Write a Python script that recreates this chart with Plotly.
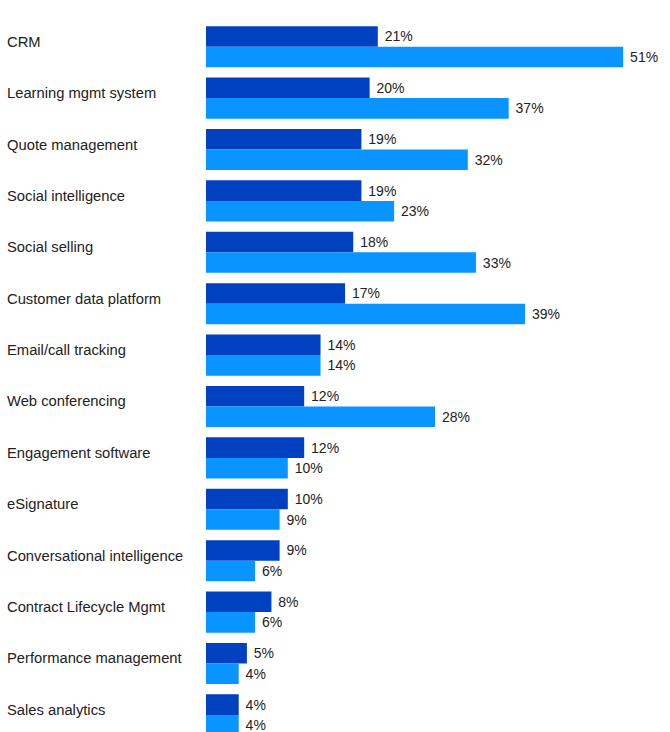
import plotly.graph_objects as go

categories = [
    "CRM", "Learning mgmt system", "Quote management", "Social intelligence",
    "Social selling", "Customer data platform", "Email/call tracking",
    "Web conferencing", "Engagement software", "eSignature",
    "Conversational intelligence", "Contract Lifecycle Mgmt",
    "Performance management", "Sales analytics",
]
series_a = [21, 20, 19, 19, 18, 17, 14, 12, 12, 10, 9, 8, 5, 4]
series_b = [51, 37, 32, 23, 33, 39, 14, 28, 10, 9, 6, 6, 4, 4]

DARK = "#0041C2"
LIGHT = "#0A94FF"
FONT = "Liberation Sans, Arial, sans-serif"
TEXT = "#222222"

fig = go.Figure()
for vals, color, name in [(series_a, DARK, "Series A"), (series_b, LIGHT, "Series B")]:
    fig.add_trace(go.Bar(
        y=categories, x=vals, orientation="h", name=name,
        marker=dict(color=color, line=dict(width=0)),
        text=[f" {v}%" for v in vals], textposition="outside",
        textfont=dict(family=FONT, size=14, color=TEXT),
        cliponaxis=False, showlegend=False,
    ))

# category labels, left-aligned at the page edge
for c in categories:
    fig.add_annotation(
        x=0, xref="paper", xanchor="left", xshift=-201,
        y=c, yref="y", yshift=5, yanchor="middle",
        text=c, showarrow=False,
        font=dict(family=FONT, size=14.75, color=TEXT),
    )

fig.update_layout(
    width=670, height=732,
    margin=dict(l=206, r=0, t=21, b=0),
    barmode="group", bargap=0.2, bargroupgap=0,
    plot_bgcolor="white", paper_bgcolor="white",
    xaxis=dict(range=[0, 56.72], visible=False, fixedrange=True),
    yaxis=dict(range=[13.333, -0.5], showticklabels=False, showgrid=False,
               zeroline=False, showline=False, ticks=""),
)

fig.write_html("out.html")
